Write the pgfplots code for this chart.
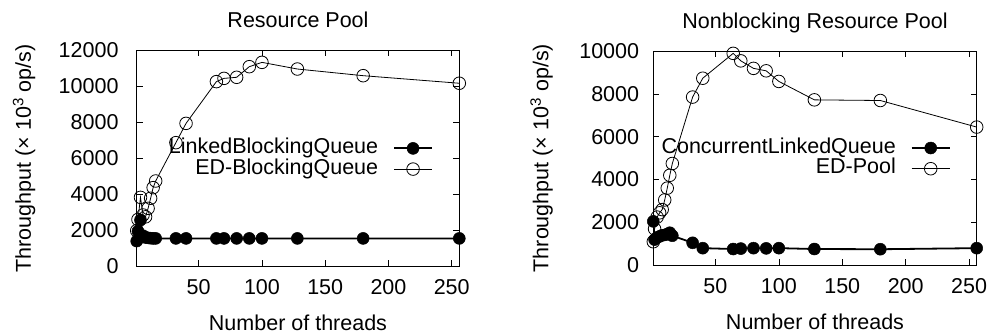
\documentclass[border=0pt]{standalone}
\usepackage{fontspec}
\setmainfont{Liberation Sans}
\usepackage{pgfplots}
\usepackage{pgfplotstable}
\pgfplotsset{compat=1.18}

\pgfplotstableread{
x lbq ed
1 1400 1980
2 1950 2600
4 2570 3830
6 1700 2850
8 1600 2750
10 1580 3220
12 1560 3780
14 1550 4370
16 1550 4740
32 1550 6870
40 1550 7940
64 1550 10260
70 1550 10440
80 1550 10500
90 1550 11090
100 1550 11330
128 1550 10960
180 1550 10590
256 1550 10170
}\leftdata

\pgfplotstableread{
x clq ed
1 2050 1100
2 1200 1700
4 1300 2250
6 1350 2450
8 1400 2600
10 1420 3050
12 1450 3600
14 1520 4200
16 1380 4750
32 1050 7850
40 800 8730
64 760 9890
70 780 9540
80 800 9190
90 790 9075
100 800 8580
128 760 7720
180 750 7690
256 800 6450
}\rightdata

\pgfplotsset{
  mystyle/.style={
    scale only axis,
    xmin=1, xmax=256,
    xtick={50,100,150,200,250},
    scaled y ticks=false,
    scaled x ticks=false,
    tick align=inside,
    major tick length=6pt,
    every tick/.style={black, line width=0.6pt},
    axis line style={line width=0.8pt},
    /pgf/number format/assume math mode=true,
    /pgf/number format/1000 sep={},
    yticklabel style={anchor=east, inner sep=0pt},
    xticklabel style={anchor=base, inner sep=0pt, yshift=-28pt},
    every axis x label/.style={at={(rel axis cs:0.5,0)}, anchor=base, yshift=-64pt},
    every axis title/.style={at={(rel axis cs:0.5,1)}, anchor=base, yshift=23pt},
    legend cell align=right,
    legend plot pos=right,
    legend style={draw=none, fill=none, inner sep=0pt, anchor=east,
      nodes={inner sep=0pt, text height=15pt, text depth=5pt}, row sep=0.7pt,
      /tikz/every odd column/.append style={column sep=15pt}},
    legend image code/.code={\draw[mark repeat=2,mark phase=2,##1] plot coordinates {(0pt,0pt) (19pt,0pt) (38pt,0pt)};},
    xlabel={Number of threads},
    ylabel={Throughput (\texttimes{} 10\textsuperscript{3} op/s)},
  },
  thickser/.style={black, line width=1.8pt, mark=*, mark size=6pt, mark options={solid, line width=0.5pt}},
  thinser/.style={black, line width=0.8pt, mark=o, mark size=6.3pt, mark options={solid, line width=0.8pt}},
}

\begin{document}
\begin{tikzpicture}[font=\fontsize{21.5}{24}\selectfont]
\path[use as bounding box] (0,0) rectangle (991pt,333pt);
\begin{axis}[mystyle,
  at={(136.7pt,66.7pt)}, anchor=south west,
  width=322.6pt, height=216pt,
  ymin=0, ymax=12000, ytick={0,2000,...,12000},
  yticklabel style={xshift=-18pt},
  every axis y label/.style={at={(rel axis cs:0,0.5)}, xshift=-112.7pt, rotate=90, anchor=center},
  title={Resource Pool},
  legend style={at={(0.919,0.498)}},
]
\addplot[thickser] table[x=x,y=lbq]{\leftdata};
\addplot[thinser] table[x=x,y=ed]{\leftdata};
\legend{LinkedBlockingQueue, ED-BlockingQueue}
\end{axis}
\begin{axis}[mystyle,
  at={(653.3pt,67.7pt)}, anchor=south west,
  width=323.4pt, height=214.3pt,
  ymin=0, ymax=10000, ytick={0,2000,...,10000},
  yticklabel style={xshift=-14pt},
  every axis y label/.style={at={(rel axis cs:0,0.5)}, xshift=-111.6pt, rotate=90, anchor=center},
  title={Nonblocking Resource Pool},
  legend style={at={(0.92,0.499)}},
]
\addplot[thickser] table[x=x,y=clq]{\rightdata};
\addplot[thinser] table[x=x,y=ed]{\rightdata};
\legend{ConcurrentLinkedQueue, ED-Pool}
\end{axis}
\end{tikzpicture}
\end{document}
